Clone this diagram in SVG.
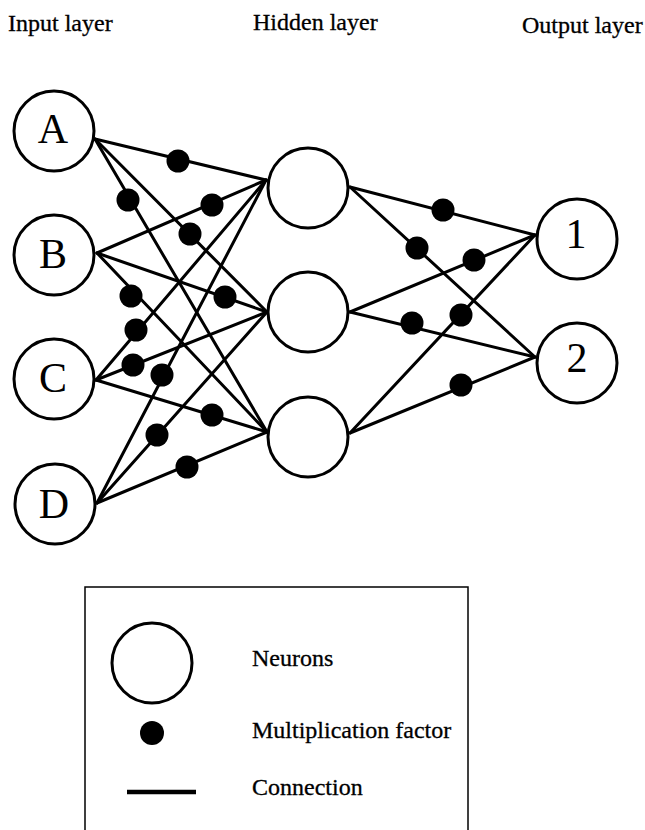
<svg xmlns="http://www.w3.org/2000/svg" width="645" height="830" viewBox="0 0 645 830">
<style>
.t{font-family:"Liberation Serif","Times New Roman",serif;font-size:24px;fill:#000;stroke:#000;stroke-width:0.3}
.n{fill:#fff;stroke:#000;stroke-width:3}
.nl{font-family:"Liberation Serif","Times New Roman",serif;font-size:42px;fill:#000;text-anchor:middle}
.c line{stroke:#000;stroke-width:3;stroke-linecap:round}
.f circle{fill:#000}
</style>
<rect width="645" height="830" fill="#fff"/>
<g id="titles">
<text class="t" x="8" y="31">Input layer</text>
<text class="t" x="253" y="30">Hidden layer</text>
<text class="t" x="522" y="33">Output layer</text>
</g>
<g id="connectors" class="c">
<line x1="95" y1="139" x2="266" y2="180"/>
<line x1="95" y1="139" x2="267" y2="312"/>
<line x1="95" y1="139" x2="267" y2="432"/>
<line x1="97" y1="253" x2="266" y2="180"/>
<line x1="97" y1="253" x2="267" y2="312"/>
<line x1="97" y1="253" x2="267" y2="432"/>
<line x1="96" y1="380" x2="266" y2="180"/>
<line x1="96" y1="380" x2="267" y2="312"/>
<line x1="96" y1="380" x2="267" y2="432"/>
<line x1="97" y1="503" x2="266" y2="180"/>
<line x1="97" y1="503" x2="267" y2="312"/>
<line x1="97" y1="503" x2="267" y2="432"/>
<line x1="350" y1="187" x2="535" y2="235"/>
<line x1="350" y1="187" x2="535" y2="357"/>
<line x1="350" y1="312" x2="535" y2="235"/>
<line x1="350" y1="312" x2="535" y2="357"/>
<line x1="350" y1="433" x2="535" y2="235"/>
<line x1="350" y1="433" x2="535" y2="357"/>
</g>
<g id="factors" class="f">
<circle cx="178" cy="161" r="11.5"/>
<circle cx="128" cy="200" r="11.5"/>
<circle cx="190" cy="234" r="11.5"/>
<circle cx="212" cy="205" r="11.5"/>
<circle cx="225" cy="297" r="11.5"/>
<circle cx="131" cy="296" r="11.5"/>
<circle cx="136" cy="330" r="11.5"/>
<circle cx="133" cy="365" r="11.5"/>
<circle cx="162" cy="375" r="11.5"/>
<circle cx="212" cy="415" r="11.5"/>
<circle cx="157" cy="435" r="11.5"/>
<circle cx="187" cy="467" r="11.5"/>
<circle cx="443" cy="210" r="11.5"/>
<circle cx="417" cy="248" r="11.5"/>
<circle cx="474" cy="260" r="11.5"/>
<circle cx="412" cy="323" r="11.5"/>
<circle cx="461" cy="315" r="11.5"/>
<circle cx="461" cy="385" r="11.5"/>
</g>
<g id="nodeA"><circle class="n" cx="54" cy="131" r="40"/><text class="nl" x="53" y="143">A</text></g>
<g id="nodeB"><circle class="n" cx="54" cy="255" r="40"/><text class="nl" x="53" y="268">B</text></g>
<g id="nodeC"><circle class="n" cx="54" cy="379" r="40"/><text class="nl" x="53" y="392">C</text></g>
<g id="nodeD"><circle class="n" cx="55" cy="504" r="40"/><text class="nl" x="54" y="518">D</text></g>
<g id="hidden1"><circle class="n" cx="308" cy="188" r="40"/></g>
<g id="hidden2"><circle class="n" cx="308" cy="312" r="40"/></g>
<g id="hidden3"><circle class="n" cx="308" cy="437" r="40"/></g>
<g id="output1"><circle class="n" cx="577" cy="239" r="40"/><text class="nl" x="576" y="248">1</text></g>
<g id="output2"><circle class="n" cx="577" cy="363" r="40"/><text class="nl" x="577" y="372">2</text></g>
<g id="legend">
<rect x="85" y="587" width="383" height="270" fill="none" stroke="#000" stroke-width="1.5"/>
<circle class="n" cx="152" cy="663" r="40"/>
<circle cx="152" cy="733" r="12" fill="#000"/>
<line x1="127" y1="792" x2="196" y2="792" stroke="#000" stroke-width="4.5"/>
<text class="t" x="252" y="666">Neurons</text>
<text class="t" x="252" y="738">Multiplication factor</text>
<text class="t" x="252" y="795">Connection</text>
</g>
</svg>
